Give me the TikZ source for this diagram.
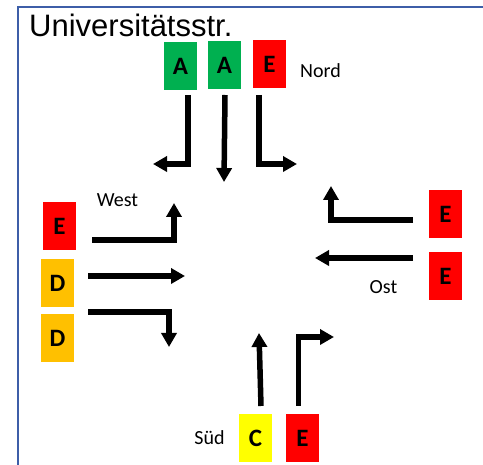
\documentclass[tikz,border=0pt]{standalone}
\usepackage{fontspec}
\setmainfont{Liberation Sans}
\newfontfamily\labelfont{Carlito}
\usetikzlibrary{arrows.meta}
\definecolor{frameblue}{RGB}{61,94,168}
\definecolor{cgreen}{RGB}{0,176,80}
\definecolor{cred}{RGB}{255,0,0}
\definecolor{corange}{RGB}{255,192,0}
\definecolor{cyellow}{RGB}{255,255,0}
\newcommand{\boxfont}{\labelfont\fontsize{25}{28}\selectfont\bfseries}
\tikzset{
  lanebox/.style={rectangle, minimum width=33pt, minimum height=48pt, inner sep=0pt,
    font=\boxfont},
  dirlabel/.style={inner sep=0pt, font=\labelfont\fontsize{20}{24}\selectfont},
  lanearrow/.style={line width=5.5pt, line join=miter,
    -{Triangle[width=15pt,length=14pt]}},
}
\begin{document}
\begin{tikzpicture}[x=1pt,y=-1pt]
\useasboundingbox (0,0) rectangle (483,465);
\fill[white] (0,0) rectangle (483,465);
% frame
\draw[frameblue, line width=2pt] (18,465) -- (18,7) -- (483,7);
% title
\node[anchor=base west, inner sep=0pt, font=\fontsize{31}{36}\selectfont] (title) at (29,37) {Universitätsstr.};
% boxes
\node[lanebox, fill=cgreen] (nA1) at (180.5,66) {A};
\node[lanebox, fill=cgreen] (nA2) at (224.5,65.5) {A};
\node[lanebox, fill=cred] (nE) at (269.5,64.5) {E};
\node[lanebox, fill=cred] (wE) at (59.5,226.5) {E};
\node[lanebox, fill=corange] (wD1) at (57.5,283.5) {D};
\node[lanebox, fill=corange] (wD2) at (57.5,338.5) {D};
\node[lanebox, fill=cred] (oE1) at (445.5,214.5) {E};
\node[lanebox, fill=cred] (oE2) at (445.5,276.5) {E};
\node[lanebox, fill=cyellow] (sC) at (255.5,438.5) {C};
\node[lanebox, fill=cred] (sE) at (302.5,438.5) {E};
% labels
\node[dirlabel] (nord) at (320.5,71) {Nord};
\node[dirlabel] (west) at (117.5,200) {West};
\node[dirlabel] (ost) at (383.5,287) {Ost};
\node[dirlabel] (sued) at (209.5,438) {Süd};
% arrow coordinates
\coordinate (n1s) at (188,95);  \coordinate (n1t) at (153,164);
\coordinate (n2s) at (225,95);  \coordinate (n2t) at (224,182);
\coordinate (n3s) at (259,95);  \coordinate (n3t) at (297,164);
\coordinate (w1s) at (92,240);  \coordinate (w1t) at (174,203);
\coordinate (w2s) at (88,276);  \coordinate (w2t) at (185,276);
\coordinate (w3s) at (88,312);  \coordinate (w3t) at (169,347);
\coordinate (o1s) at (413,220); \coordinate (o1t) at (331,186);
\coordinate (o2s) at (413,258); \coordinate (o2t) at (315,258);
\coordinate (s1s) at (261,406); \coordinate (s1t) at (259,333);
\coordinate (s2s) at (298.5,406); \coordinate (s2t) at (334,337);
% arrows
\draw[lanearrow] (n1s) |- (n1t);
\draw[lanearrow] (n2s) -- (n2t);
\draw[lanearrow] (n3s) |- (n3t);
\draw[lanearrow] (w1s) -| (w1t);
\draw[lanearrow] (w2s) -- (w2t);
\draw[lanearrow] (w3s) -| (w3t);
\draw[lanearrow] (o1s) -| (o1t);
\draw[lanearrow] (o2s) -- (o2t);
\draw[lanearrow] (s1s) -- (s1t);
\draw[lanearrow] (s2s) |- (s2t);
\end{tikzpicture}
\end{document}
